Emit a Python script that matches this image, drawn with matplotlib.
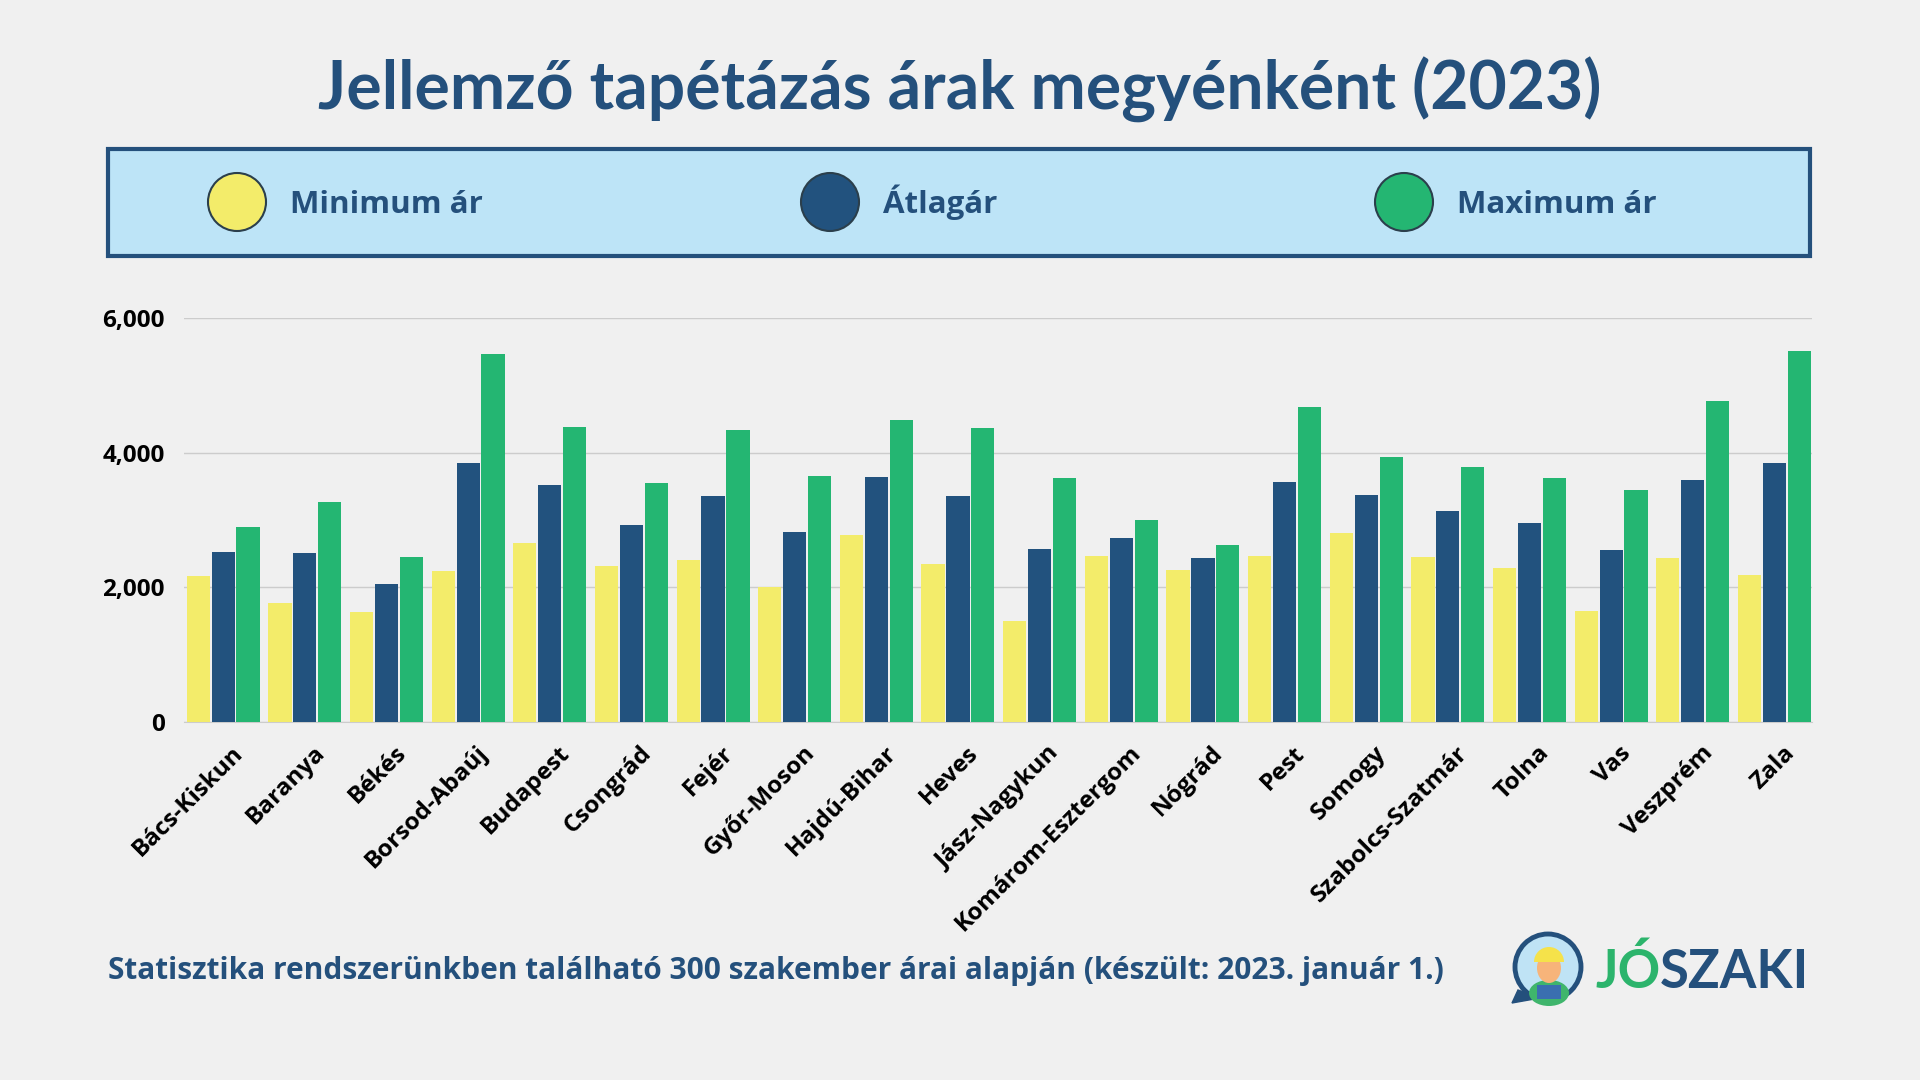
import matplotlib
matplotlib.use("Agg")
import matplotlib.pyplot as plt
import matplotlib.transforms as mtransforms
from matplotlib.patches import Rectangle, Circle, Ellipse, Polygon, Wedge
import numpy as np

# Data
counties = ["Bács-Kiskun", "Baranya", "Békés", "Borsod-Abaúj", "Budapest", "Csongrád",
            "Fejér", "Győr-Moson", "Hajdú-Bihar", "Heves", "Jász-Nagykun",
            "Komárom-Esztergom", "Nógrád", "Pest", "Somogy", "Szabolcs-Szatmár",
            "Tolna", "Vas", "Veszprém", "Zala"]
min_price = [2160, 1770, 1630, 2240, 2660, 2310, 2400, 2000, 2770, 2350, 1500,
             2460, 2250, 2460, 2810, 2455, 2290, 1650, 2430, 2180]
avg_price = [2525, 2510, 2040, 3850, 3520, 2925, 3360, 2820, 3630, 3350, 2560,
             2730, 2435, 3565, 3375, 3125, 2955, 2550, 3590, 3845]
max_price = [2900, 3260, 2450, 5470, 4380, 3545, 4330, 3650, 4490, 4360, 3620,
             3005, 2620, 4680, 3940, 3780, 3620, 3445, 4760, 5510]
series_labels = ["Minimum ár", "Átlagár", "Maximum ár"]
yticks = [0, 2000, 4000, 6000]

YELLOW = "#f3ec6a"
BLUE = "#22527e"
GREEN = "#24b672"
DARK = "#24507c"
BG = "#f0f0f0"

plt.rcParams['font.family'] = ["Open Sans", "DejaVu Sans"]

fig = plt.figure(figsize=(19.2, 10.8), dpi=100, facecolor=BG)

# background overlay in pixel coords
bg = fig.add_axes([0, 0, 1, 1], zorder=0)
bg.set_xlim(0, 1920)
bg.set_ylim(1080, 0)
bg.axis("off")

bg.text(960, 90, "Jellemző tapétázás árak megyénként (2023)", ha="center", va="center",
        fontsize=47.5, fontweight="bold", color=DARK, family=["Lato", "DejaVu Sans"])

# legend box
bg.add_patch(Rectangle((108, 149), 1702, 107, facecolor="#bde4f7", edgecolor=DARK, lw=3))
leg_x = [237, 830, 1404]
for x, col, lab in zip(leg_x, [YELLOW, BLUE, GREEN], series_labels):
    bg.add_patch(Circle((x, 202), 29, facecolor=col, edgecolor="#2b3f4c", lw=1.5))
    bg.text(x + 53, 213, lab, ha="left", va="baseline", fontsize=22.5, fontweight="bold",
            color=DARK)

# footer
bg.text(108, 971, "Statisztika rendszerünkben található 300 szakember árai alapján (készült: 2023. január 1.)",
        ha="left", va="center", fontsize=21.5, fontweight="bold", color=DARK)

# logo icon
bg.add_patch(Polygon([[1518, 990], [1512, 1003], [1540, 998]], closed=True,
                     facecolor=DARK, edgecolor=DARK))
bg.add_patch(Circle((1548, 967), 33, facecolor="#bfe3f5", edgecolor=DARK, lw=3.5))
bg.add_patch(Ellipse((1549, 993), 40, 26, facecolor="#3fb56c", edgecolor="none"))
bg.add_patch(Rectangle((1537, 985), 24, 14, facecolor="#3a6fb0", edgecolor="none"))
bg.add_patch(Ellipse((1549, 968), 24, 30, facecolor="#f7b47a", edgecolor="none"))
bg.add_patch(Wedge((1549, 962), 15, 180, 360, facecolor="#f5e24a", edgecolor="none"))
bg.text(1595, 972, "JÓ", ha="left", va="center", fontsize=38, fontweight="bold",
        color="#2cb46c", family=["Lato", "DejaVu Sans"])
bg.text(1809, 972, "SZAKI", ha="right", va="center", fontsize=38, fontweight="bold",
        color=DARK, family=["Lato", "DejaVu Sans"])

# main chart
ax = fig.add_axes([184 / 1920, (1080 - 721.7) / 1080, (1812 - 184) / 1920, (721.7 - 318) / 1080],
                  zorder=1)
ax.set_facecolor("none")
x = np.arange(len(counties))
w = 0.284
off = 0.305
for vals, col, k in zip([min_price, avg_price, max_price], [YELLOW, BLUE, GREEN], [-1, 0, 1]):
    ax.bar(x + k * off, vals, width=w, color=col, zorder=3)

ax.set_xlim(-0.48, len(counties) - 1 + 0.46)
ax.set_ylim(0, 6000)
ax.set_yticks(yticks)
ax.set_yticklabels([f"{v:,}" for v in yticks], fontsize=17.5, fontweight="bold")
ax.yaxis.grid(True, color="#cccccc", lw=1, zorder=0)
ax.tick_params(axis="y", length=0, pad=14)
ax.set_xticks(x)
ax.set_xticklabels(counties, rotation=45, ha="right", rotation_mode="anchor",
                   fontsize=17.5, fontweight="bold")
ax.tick_params(axis="x", length=0, pad=14)
shift = mtransforms.ScaledTranslation(8 / 100, 0, fig.dpi_scale_trans)
for lbl in ax.get_xticklabels():
    lbl.set_transform(lbl.get_transform() + shift)
for s in ["top", "right", "left"]:
    ax.spines[s].set_visible(False)
ax.spines["bottom"].set_color("#cccccc")

fig.savefig("out.png", dpi=100, facecolor=BG)
